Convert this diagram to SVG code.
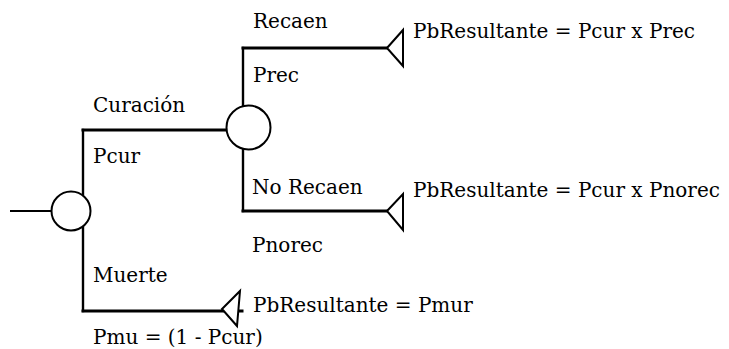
<svg xmlns="http://www.w3.org/2000/svg" width="729" height="349" viewBox="0 0 729 349">
  <style>
    .lbl { font-family: "DejaVu Serif", "Liberation Serif", serif; font-size: 20px; fill: #000; }
    .edge { stroke: #000; fill: none; stroke-linecap: square; }
    .h { stroke-width: 3; }
    .v { stroke-width: 2.4; }
    .chance { fill: #fff; stroke: #000; stroke-width: 2; }
    .terminal { fill: #fff; stroke: #000; stroke-width: 2; stroke-linejoin: miter; }
  </style>

  <!-- branches of the decision tree -->
  <g id="connectors">
    <line class="edge" x1="11" y1="211" x2="52" y2="211" stroke-width="2" stroke-linecap="butt"/>
    <line class="edge v" x1="83" y1="130" x2="83" y2="311"/>
    <line class="edge h" x1="83" y1="130" x2="228" y2="130"/>
    <line class="edge h" x1="83" y1="311" x2="242" y2="311"/>
    <line class="edge v" x1="243" y1="48" x2="243" y2="211"/>
    <line class="edge h" x1="243" y1="48" x2="389" y2="48"/>
    <line class="edge h" x1="243" y1="211" x2="389" y2="211"/>
  </g>

  <!-- root chance node -->
  <g id="node-root">
    <circle class="chance" cx="71" cy="211" r="19.5"/>
  </g>

  <!-- chance node after cure -->
  <g id="node-curacion">
    <circle class="chance" cx="248.5" cy="127.5" r="22"/>
  </g>

  <g id="branch-labels">
    <text class="lbl" x="93" y="112">Curación</text>
    <text class="lbl" x="93" y="163">Pcur</text>
    <text class="lbl" x="93" y="282">Muerte</text>
    <text class="lbl" x="93" y="344">Pmu = (1 - Pcur)</text>
    <text class="lbl" x="253" y="28">Recaen</text>
    <text class="lbl" x="253" y="82">Prec</text>
    <text class="lbl" x="252" y="194">No Recaen</text>
    <text class="lbl" x="252" y="252">Pnorec</text>
  </g>

  <!-- terminal nodes -->
  <g id="node-recaen">
    <polygon class="terminal" points="387,48 403,30 403,66"/>
    <text class="lbl" x="413" y="38">PbResultante = Pcur x Prec</text>
  </g>
  <g id="node-norecaen">
    <polygon class="terminal" points="387,211 403,194 403,230"/>
    <text class="lbl" x="413" y="197">PbResultante = Pcur x Pnorec</text>
  </g>
  <g id="node-muerte">
    <polygon class="terminal" points="222,309 240,291 237,326"/>
    <text class="lbl" x="253" y="312">PbResultante = Pmur</text>
  </g>
</svg>
